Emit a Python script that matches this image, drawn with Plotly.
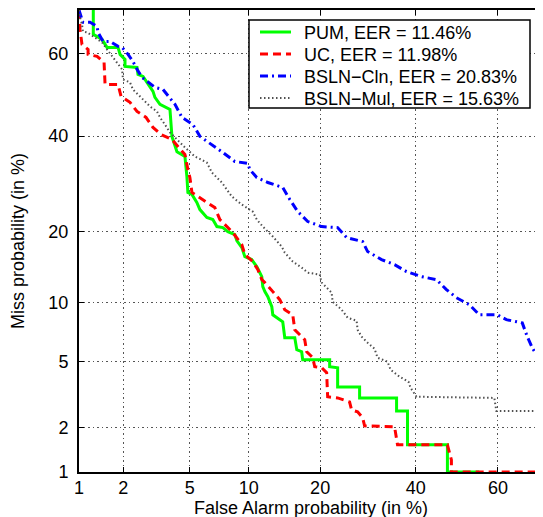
import plotly.graph_objects as go
from statistics import NormalDist

# ---- data (percent) ----
tick_vals = [1, 2, 5, 10, 20, 40, 60]
tick_text = ["1", "2", "5", "10", "20", "40", "60"]

pum_fa = [1.26, 1.26, 1.447, 1.562, 1.849, 1.906, 2.052, 2.052, 2.447, 2.482, 2.667, 2.943, 3.069, 3.153,
          3.379, 3.868, 3.97, 4.242, 4.705, 4.826, 4.887, 5.144, 5.47, 5.684, 6.188, 6.65, 6.98, 7.485, 7.926,
          8.583, 8.774, 9.28, 9.59, 10.33, 10.90, 11.49, 11.61, 11.86, 12.23, 12.73, 12.86, 13.78, 14.19, 14.47,
          15.92, 16.22, 16.97, 17.13, 21.68, 21.68, 23.15, 23.15, 27.47, 27.47, 35.53, 35.53, 38.07, 38.07,
          47.69, 47.69, 55.5]
pum_miss = [72, 64.6, 63.42, 61.55, 61.55, 59.9, 58.7, 57.0, 56.76, 55.06, 54.57, 52.11, 50.88, 49.41, 47.69,
            46.44, 39.92, 36.32, 35.22, 30.74, 27.37, 26.96, 25.35, 23.97, 22.48, 22.11, 20.84, 20.66, 19.96,
            19.45, 18.44, 17.32, 15.93, 15.49, 14.48, 13.12, 11.86, 11.25, 10.66, 9.57, 8.75, 8.28, 8.08, 6.71,
            6.71, 5.80, 5.66, 5.12, 5.12, 4.68, 4.62, 3.58, 3.58, 3.08, 3.08, 2.56, 2.56, 1.543, 1.543, 1.0, 1.0]

uc_fa = [1.0, 1.017, 1.05, 1.159, 1.159, 1.338, 1.493, 1.516, 1.849, 1.935, 2.209, 2.447, 2.783, 3.069, 3.425,
         3.97, 4.297, 4.705, 4.887, 5.013, 5.144, 5.895, 6.81, 7.23, 8.39, 9.28, 9.59, 10.44, 11.02, 11.49, 11.86,
         12.86, 13.78, 14.47, 15.62, 15.92, 17.45, 17.77, 18.75, 19.08, 20.27, 21.14, 21.32, 23.15, 25.45, 25.84,
         27.06, 28.10, 28.51, 35.07, 35.75, 47.69, 48.67, 48.67, 70.0]
uc_miss = [69.8, 65.72, 62.26, 61.08, 59.89, 59.41, 57.98, 52.60, 52.60, 49.66, 48.18, 45.95, 44.50, 42.05,
           40.39, 39.19, 37.53, 35.68, 32.28, 30.53, 27.37, 25.94, 24.36, 22.11, 19.79, 17.80, 16.24, 15.20,
           14.07, 12.73, 12.35, 11.25, 10.33, 9.26, 8.75, 7.37, 6.55, 5.66, 5.25, 4.68, 4.62, 4.33, 3.13, 3.08,
           2.91, 2.60, 2.53, 2.32, 2.06, 2.03, 1.543, 1.543, 1.217, 1.0, 1.0]

cln_fa = [1.0, 1.066, 1.196, 1.338, 1.359, 1.47, 1.636, 1.849, 1.964, 2.147, 2.306, 2.447, 2.628, 3.153, 3.518,
          3.715, 4.134, 4.524, 5.21, 5.684, 6.573, 7.485, 8.583, 9.905, 10.12, 10.90, 12.23, 14.19, 15.19, 16.37,
          17.93, 20.27, 23.15, 24.87, 28.10, 29.14, 32.15, 35.07, 37.83, 41.38, 45.02, 47.45, 49.9, 53.08, 55.5,
          59.85, 61.98, 65.65, 66.78, 67.89, 68.77, 70.5]
cln_miss = [70, 67.32, 67.32, 66.4, 65.03, 62.96, 62.96, 61.79, 61.55, 59.89, 58.22, 56.28, 54.32, 51.87, 51.37,
            50.15, 47.69, 44.5, 42.78, 39.92, 38.0, 36.14, 34.08, 33.63, 32.28, 30.53, 29.46, 28.41, 25.94, 23.6,
            21.74, 20.84, 20.66, 18.95, 18.28, 16.70, 15.49, 14.76, 13.79, 13.12, 12.73, 11.49, 10.55, 9.78, 8.75,
            8.75, 8.28, 7.98, 6.79, 5.94, 5.45, 4.9]

mul_fa = [1.0, 1.017, 1.05, 1.066, 1.141, 1.26, 1.447, 1.562, 1.714, 1.964, 1.992, 2.209, 2.306, 2.667, 2.943,
          3.245, 3.379, 3.613, 3.868, 4.242, 4.705, 5.34, 6.188, 6.573, 7.397, 8.296, 9.28, 10.44, 10.90, 11.61,
          12.86, 14.05, 14.47, 15.62, 16.97, 17.93, 19.93, 20.27, 22.04, 22.22, 23.91, 25.07, 26.86, 27.06, 27.89,
          29.14, 30.62, 31.27, 33.49, 34.17, 36.21, 38.3, 38.78, 40.2, 59.13, 59.61, 69.2, 69.2]
mul_miss = [70, 68.42, 66.86, 65.26, 65.03, 64.12, 62.74, 61.08, 59.18, 56.28, 53.83, 53.1, 51.37, 48.92, 47.19,
            45.95, 44.5, 42.78, 40.87, 39.19, 37.3, 35.22, 33.85, 31.62, 29.46, 26.55, 24.95, 23.6, 22.11, 20.84,
            19.12, 17.48, 16.54, 15.20, 14.34, 13.65, 13.39, 12.35, 11.13, 10.11, 9.26, 8.47, 8.18, 7.37, 6.79,
            6.32, 5.87, 5.25, 4.99, 4.50, 4.11, 3.84, 3.54, 3.13, 3.08, 2.56, 2.56, 1.617]

series_names = ["PUM, EER = 11.46%", "UC, EER = 11.98%", "BSLN\u2212Cln, EER = 20.83%", "BSLN\u2212Mul, EER = 15.63%"]

# ---- styles ----
styles = [
    dict(color="#00ff00", width=3, dash="solid"),
    dict(color="#ff0000", width=3, dash="8px,5px"),
    dict(color="#0000ff", width=3, dash="8px,4px,2px,4px"),
    dict(color="#505050", width=2, dash="1.5px,2.5px"),
]

nd = NormalDist()


def probit(vals):
    return [nd.inv_cdf(v / 100.0) for v in vals]


fig = go.Figure()
for (fa, miss), name, st in zip([(pum_fa, pum_miss), (uc_fa, uc_miss), (cln_fa, cln_miss), (mul_fa, mul_miss)],
                                series_names, styles):
    fig.add_trace(go.Scatter(x=probit(fa), y=probit(miss), mode="lines", name=name,
                             line=st, showlegend=False))

rng = probit([1, 70])
axis_common = dict(
    range=rng, tickmode="array", tickvals=probit(tick_vals), ticktext=tick_text,
    ticks="inside", ticklen=5, tickwidth=1, tickcolor="black",
    showline=True, linewidth=2, linecolor="black", mirror="ticks",
    showgrid=True, gridcolor="#555555", gridwidth=1, griddash="1.5px,3px",
    zeroline=False, tickfont=dict(size=18), automargin=False,
)
fig.update_xaxes(**axis_common, ticklabelstandoff=-2)
fig.update_yaxes(**axis_common, ticklabelstandoff=5)

# ---- legend (drawn box, sample lines, text); positions relative to the plot area ----
W_PLOT, H_PLOT, L, T = 463, 462, 79, 10


def px_x(p):
    return (p - L) / W_PLOT


def px_y(p):
    return (T + H_PLOT - p) / H_PLOT


shapes = [dict(type="rect", xref="paper", yref="paper", x0=px_x(249), x1=px_x(530), y0=px_y(108), y1=px_y(20),
               line=dict(color="black", width=1.5), fillcolor="white", layer="above")]
annotations = []
row_y = [32, 54, 76, 98]
for ry, name, st in zip(row_y, series_names, styles):
    shapes.append(dict(type="line", xref="paper", yref="paper", x0=px_x(260), x1=px_x(291),
                       y0=px_y(ry), y1=px_y(ry), line=st, layer="above"))
    annotations.append(dict(text=name, xref="paper", yref="paper", x=px_x(302), y=px_y(ry + 1),
                            xanchor="left", yanchor="middle", showarrow=False, font=dict(size=18)))

annotations.append(dict(text="False Alarm probability (in %)", xref="paper", yref="paper", x=0.5,
                        y=px_y(508), xanchor="center", yanchor="middle", showarrow=False, font=dict(size=18)))
annotations.append(dict(text="Miss probability (in %)", xref="paper", yref="paper", x=px_x(18),
                        y=0.5, xanchor="center", yanchor="middle", textangle=-90, showarrow=False,
                        font=dict(size=18)))

# the page body adds an 8px offset, so the figure is 8px smaller with margins shifted accordingly
fig.update_layout(
    width=535, height=509,
    margin=dict(l=71, r=1, t=2, b=45, autoexpand=False),
    plot_bgcolor="white", paper_bgcolor="white",
    font=dict(family="Liberation Sans, Arial, sans-serif", size=18, color="black"),
    shapes=shapes, annotations=annotations,
)

fig.write_html("out.html")
